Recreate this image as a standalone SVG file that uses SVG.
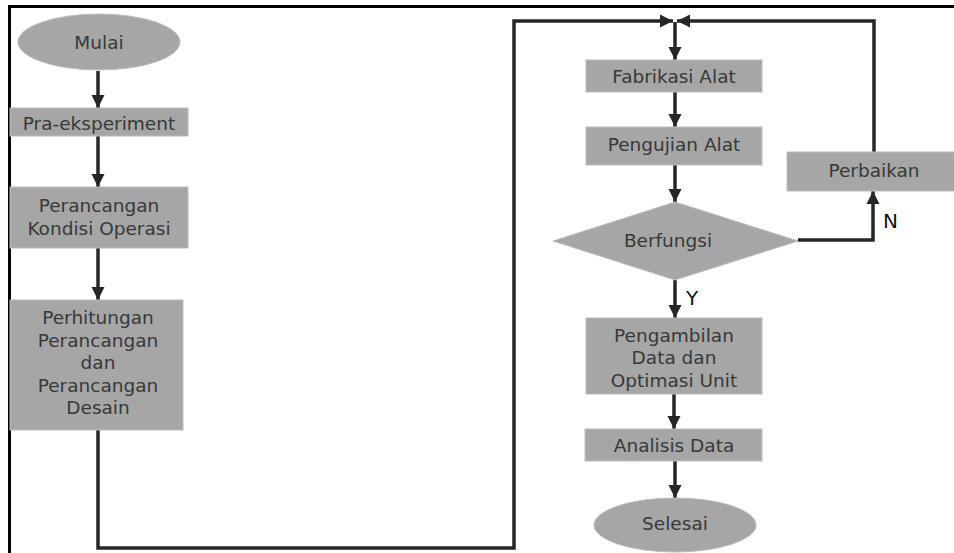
<svg xmlns="http://www.w3.org/2000/svg" width="954" height="553" viewBox="0 0 954 553">
<style>
.n{fill:#a6a6a6;stroke:#bdbdbd;stroke-width:1}
.t{font-family:"DejaVu Sans",Verdana,sans-serif;font-size:18.5px;fill:#383838;text-anchor:middle;dominant-baseline:central}
.l{font-family:"DejaVu Sans",Verdana,sans-serif;font-size:20px;fill:#111;dominant-baseline:central}
.c{fill:none;stroke:#262626;stroke-width:3.5;stroke-linejoin:miter}
</style>
<defs>
<marker id="a" markerUnits="userSpaceOnUse" markerWidth="14" markerHeight="14" viewBox="0 0 14 14" refX="13" refY="7" orient="auto">
<path d="M0,0.5 L13,7 L0,13.5 Z" fill="#262626"/>
</marker>
</defs>
<rect width="954" height="553" fill="#fff"/>
<path d="M9.5,553 V6.5 H954" fill="none" stroke="#000" stroke-width="3"/>
<g id="connectors">
<path class="c" d="M98,71 V108" marker-end="url(#a)"/>
<path class="c" d="M98,136 V187" marker-end="url(#a)"/>
<path class="c" d="M98,248 V300" marker-end="url(#a)"/>
<path class="c" d="M98,430 V548 H514 V21 H673" marker-end="url(#a)"/>
<path class="c" d="M874,152 V21 H677" marker-end="url(#a)"/>
<path class="c" d="M675,22 V60" marker-end="url(#a)"/>
<path class="c" d="M675,92 V127" marker-end="url(#a)"/>
<path class="c" d="M675,165 V202" marker-end="url(#a)"/>
<path class="c" d="M798,240 H873 V191" marker-end="url(#a)"/>
<path class="c" d="M675,280 V318" marker-end="url(#a)"/>
<path class="c" d="M674,394 V429" marker-end="url(#a)"/>
<path class="c" d="M675,461 V498" marker-end="url(#a)"/>
<text class="l" x="883" y="221">N</text>
<text class="l" x="686" y="298">Y</text>
</g>
<g id="mulai"><ellipse class="n" cx="99" cy="42" rx="81" ry="28"/><text class="t" x="99" y="42">Mulai</text></g>
<g id="pra"><rect class="n" x="10" y="108" width="178" height="28"/><text class="t" x="99" y="123">Pra-eksperiment</text></g>
<g id="kondisi"><rect class="n" x="10" y="187" width="178" height="61"/><text class="t" x="99" y="205">Perancangan</text><text class="t" x="99" y="228">Kondisi Operasi</text></g>
<g id="perhitungan"><rect class="n" x="10" y="300" width="173" height="130"/>
<text class="t" x="98" y="317">Perhitungan</text><text class="t" x="98" y="340">Perancangan</text><text class="t" x="98" y="362">dan</text><text class="t" x="98" y="385">Perancangan</text><text class="t" x="98" y="407">Desain</text></g>
<g id="fabrikasi"><rect class="n" x="586" y="60" width="176" height="32"/><text class="t" x="674" y="76">Fabrikasi Alat</text></g>
<g id="pengujian"><rect class="n" x="586" y="127" width="176" height="38"/><text class="t" x="674" y="144">Pengujian Alat</text></g>
<g id="berfungsi"><polygon class="n" points="553,241 675,202 798,241 675,280"/><text class="t" x="668" y="240">Berfungsi</text></g>
<g id="perbaikan"><rect class="n" x="787" y="152" width="168" height="39"/><text class="t" x="874" y="170">Perbaikan</text></g>
<g id="pengambilan"><rect class="n" x="586" y="318" width="176" height="76"/><text class="t" x="674" y="335">Pengambilan</text><text class="t" x="674" y="357">Data dan</text><text class="t" x="674" y="380">Optimasi Unit</text></g>
<g id="analisis"><rect class="n" x="585" y="429" width="177" height="32"/><text class="t" x="674" y="445">Analisis Data</text></g>
<g id="selesai"><ellipse class="n" cx="675" cy="525" rx="81" ry="27"/><text class="t" x="675" y="523">Selesai</text></g>
</svg>
